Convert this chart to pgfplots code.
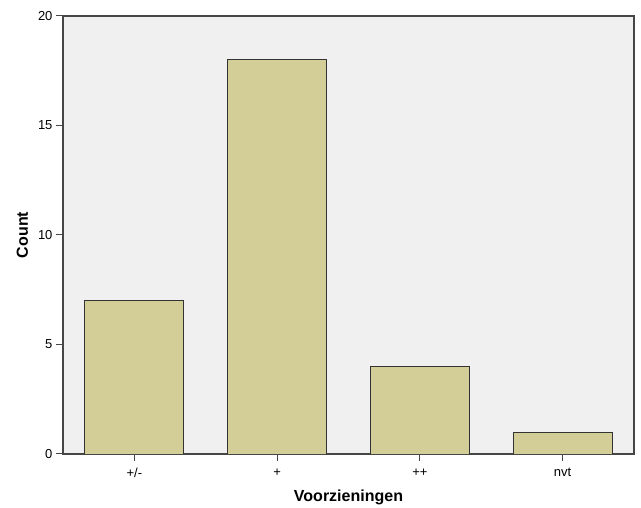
\documentclass[border=0pt]{standalone}
\usepackage{pgfplots}
\pgfplotsset{compat=1.18}
\usepackage{fontspec}
\setmainfont{Liberation Sans}
\definecolor{barfill}{RGB}{211,206,151}
\definecolor{bg}{RGB}{240,240,240}
\definecolor{axline}{RGB}{70,70,70}
\begin{document}
\begin{tikzpicture}[x=1pt,y=1pt]
\path[use as bounding box] (-63,-54) rectangle (578,454);
\begin{axis}[
    scale only axis,
    width=571pt, height=438pt,
    xmin=-0.5, xmax=3.5,
    ymin=0, ymax=20,
    xtick={0,1,2,3},
    xticklabels={+/-,+,++,nvt},
    ytick={0,5,10,15,20},
    tick align=outside,
    major tick length=7pt,
    tick style={axline, line width=1pt},
    axis line style={axline, line width=1.3pt},
    axis background/.style={fill=bg},
    ticklabel style={font=\fontsize{13}{15}\selectfont},
    xticklabel style={yshift=-4pt},
    /pgf/number format/assume math mode=true,
    xtick pos=bottom, ytick pos=left,
    xlabel={\textbf{Voorzieningen}},
    ylabel={\textbf{Count}},
    label style={font=\fontsize{16}{18}\selectfont},
    xlabel style={yshift=-5pt},
    ylabel style={yshift=3pt},
    ybar, bar width=99pt,
]
\addplot[fill=barfill, draw=black!80, line width=0.8pt] coordinates {(0,7) (1,18) (2,4) (3,1)};
\end{axis}
\end{tikzpicture}
\end{document}
